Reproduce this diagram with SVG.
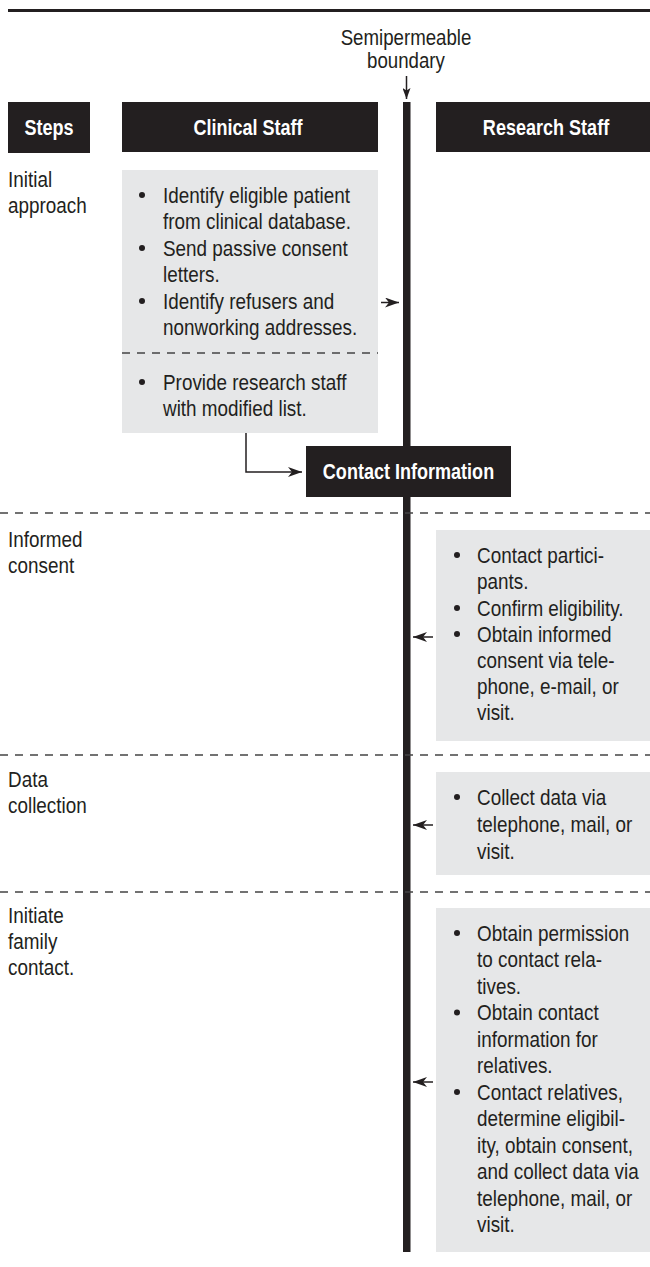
<svg xmlns="http://www.w3.org/2000/svg" width="650" height="1267" viewBox="0 0 650 1267">
<style>
text{font-family:"Liberation Sans","Arial",sans-serif;fill:#231f20;font-size:22.5px}
.hd{fill:#fff;font-weight:bold;font-size:22px;text-anchor:middle}
.mid{text-anchor:middle}
.hbox{fill:#231f20}
.gbox{fill:#e6e7e8}
.dash{stroke:#444;stroke-width:1.5;stroke-dasharray:8 7;fill:none}
.conn{stroke:#231f20;stroke-width:1.5;fill:none}
.bul{fill:#231f20}
</style>
<defs>
<marker id="ah" viewBox="0 0 14 10" refX="14" refY="5" markerWidth="14" markerHeight="10" markerUnits="userSpaceOnUse" orient="auto">
<path d="M0,0 L14,5 L0,10 L4,5 Z" fill="#231f20"/>
</marker>
<marker id="ahs" viewBox="0 0 11 8" refX="11" refY="4" markerWidth="11" markerHeight="8" markerUnits="userSpaceOnUse" orient="auto">
<path d="M0,0 L11,4 L0,8 L2.5,4 Z" fill="#231f20"/>
</marker>
</defs>
<rect width="650" height="1267" fill="#fff"/>
<line x1="8" y1="10.5" x2="650" y2="10.5" stroke="#231f20" stroke-width="3"/>

<g id="boundary-label" transform="translate(406,0) scale(0.83,1)">
<text class="mid" x="0" y="45">Semipermeable</text>
<text class="mid" x="0" y="68">boundary</text>
</g>

<g id="boundary">
<rect x="403" y="102" width="7.5" height="1150" fill="#231f20"/>
</g>

<g id="header-steps"><rect class="hbox" x="8" y="102" width="82" height="51"/><text class="hd" transform="translate(49,0) scale(0.82,1)" x="0" y="135">Steps</text></g>
<g id="header-clinical"><rect class="hbox" x="122" y="102" width="256" height="50"/><text class="hd" transform="translate(248,0) scale(0.82,1)" x="0" y="135">Clinical Staff</text></g>
<g id="header-research"><rect class="hbox" x="436" y="102" width="214" height="50"/><text class="hd" transform="translate(546,0) scale(0.82,1)" x="0" y="135">Research Staff</text></g>

<g id="steps-labels" transform="translate(8,0) scale(0.84,1)">
<g id="step-initial"><text x="0" y="187">Initial</text><text x="0" y="213">approach</text></g>
<g id="step-consent"><text x="0" y="547">Informed</text><text x="0" y="573">consent</text></g>
<g id="step-data"><text x="0" y="787">Data</text><text x="0" y="813">collection</text></g>
<g id="step-family"><text x="0" y="923">Initiate</text><text x="0" y="949">family</text><text x="0" y="975">contact.</text></g>
</g>

<g id="clinical-tasks">
<rect class="gbox" x="122" y="170" width="256" height="263"/>
<line class="dash" x1="122" y1="353" x2="378" y2="353"/>
<circle class="bul" cx="142" cy="195" r="3"/>
<circle class="bul" cx="142" cy="248" r="3"/>
<circle class="bul" cx="142" cy="301" r="3"/>
<circle class="bul" cx="142" cy="382" r="3"/>
<g transform="translate(163,0) scale(0.84,1)">
<text x="0" y="203">Identify eligible patient</text>
<text x="0" y="229">from clinical database.</text>
<text x="0" y="256">Send passive consent</text>
<text x="0" y="282">letters.</text>
<text x="0" y="309">Identify refusers and</text>
<text x="0" y="335">nonworking addresses.</text>
<text x="0" y="390">Provide research staff</text>
<text x="0" y="416">with modified list.</text>
</g>
</g>

<g id="contact-information">
<rect class="hbox" x="306" y="446" width="205" height="51"/>
<text class="hd" transform="translate(408.5,0) scale(0.82,1)" x="0" y="479">Contact Information</text>
</g>

<g id="research-consent">
<rect class="gbox" x="436" y="530" width="214" height="211"/>
<circle class="bul" cx="457" cy="555" r="3"/>
<circle class="bul" cx="457" cy="608" r="3"/>
<circle class="bul" cx="457" cy="634" r="3"/>
<g transform="translate(477,0) scale(0.84,1)">
<text x="0" y="563">Contact partici-</text>
<text x="0" y="589">pants.</text>
<text x="0" y="616">Confirm eligibility.</text>
<text x="0" y="642">Obtain informed</text>
<text x="0" y="668">consent via tele-</text>
<text x="0" y="694">phone, e-mail, or</text>
<text x="0" y="720">visit.</text>
</g>
</g>

<g id="research-data">
<rect class="gbox" x="436" y="772" width="214" height="103"/>
<circle class="bul" cx="457" cy="797" r="3"/>
<g transform="translate(477,0) scale(0.84,1)">
<text x="0" y="805">Collect data via</text>
<text x="0" y="832">telephone, mail, or</text>
<text x="0" y="859">visit.</text>
</g>
</g>

<g id="research-family">
<rect class="gbox" x="436" y="908" width="214" height="344"/>
<circle class="bul" cx="457" cy="933" r="3"/>
<circle class="bul" cx="457" cy="1012.5" r="3"/>
<circle class="bul" cx="457" cy="1092" r="3"/>
<g transform="translate(477,0) scale(0.84,1)">
<text x="0" y="941">Obtain permission</text>
<text x="0" y="967.5">to contact rela-</text>
<text x="0" y="994">tives.</text>
<text x="0" y="1020.5">Obtain contact</text>
<text x="0" y="1047">information for</text>
<text x="0" y="1073.5">relatives.</text>
<text x="0" y="1100">Contact relatives,</text>
<text x="0" y="1126.5">determine eligibil-</text>
<text x="0" y="1153">ity, obtain consent,</text>
<text x="0" y="1179.5">and collect data via</text>
<text x="0" y="1206">telephone, mail, or</text>
<text x="0" y="1232.5">visit.</text>
</g>
</g>

<g id="section-dividers">
<line class="dash" x1="0" y1="513" x2="650" y2="513"/>
<line class="dash" x1="0" y1="755" x2="650" y2="755"/>
<line class="dash" x1="0" y1="892" x2="650" y2="892"/>
</g>

<g id="connectors">
<line class="conn" x1="406.5" y1="76" x2="406.5" y2="99" marker-end="url(#ahs)"/>
<line class="conn" x1="381" y1="302.5" x2="399" y2="302.5" marker-end="url(#ah)"/>
<polyline class="conn" points="246,433 246,472 302,472" marker-end="url(#ah)"/>
<line class="conn" x1="433" y1="637" x2="413" y2="637" marker-end="url(#ah)"/>
<line class="conn" x1="433" y1="825" x2="413" y2="825" marker-end="url(#ah)"/>
<line class="conn" x1="433" y1="1082" x2="413" y2="1082" marker-end="url(#ah)"/>
</g>
</svg>
